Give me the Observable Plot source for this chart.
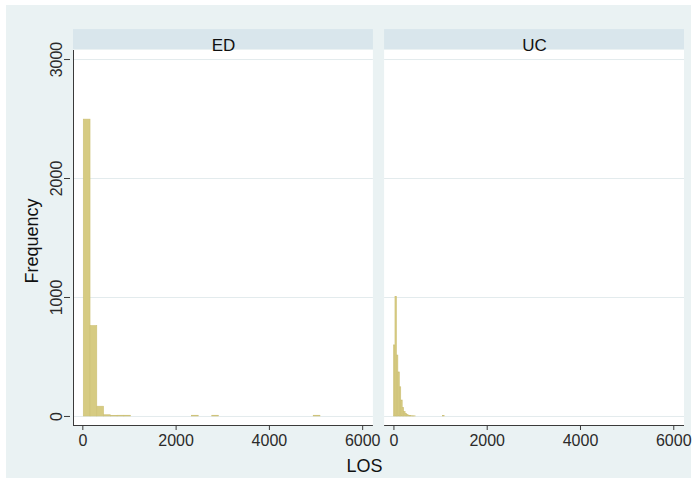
<!DOCTYPE html>
<html><head><meta charset="utf-8">
<script src="https://cdn.jsdelivr.net/npm/d3@7"></script>
<script src="https://cdn.jsdelivr.net/npm/@observablehq/plot@0.6"></script>
<style>
html,body{margin:0;padding:0;background:#fff;}
#chart{position:absolute;left:6px;top:5px;}
</style></head><body><div id="chart"></div>
<script>
// ---- data ----
const groups = ["ED", "UC"];
const edStart = 20, edWidth = 145;
const edCounts = [2495, 760, 82, 10, 3, 6, 6, 0, 0, 0,
                  0, 0, 0, 0, 0, 0, 6, 0, 0, 6,
                  0, 0, 0, 0, 0, 0, 0, 0, 0, 0,
                  0, 0, 0, 0, 6];
const ucStart = 2, ucWidth = 31;
const ucCounts = [597, 1005, 512, 370, 245, 134, 72, 38, 20, 11,
                  6, 4, 2, 1, 1, 0, 0, 0, 0, 0,
                  0, 0, 0, 0, 0, 0, 0, 0, 0, 0,
                  0, 0, 0, 0, 3];
const xTicks = [0, 2000, 4000, 6000];
const yTicks = [0, 1000, 2000, 3000];
const xLabel = "LOS";
const yLabel = "Frequency";

// ---- table built from the arrays ----
const spec = {ED: [edStart, edWidth, edCounts], UC: [ucStart, ucWidth, ucCounts]};
const bins = [];
for (const g of groups) {
  const [s, w, c] = spec[g];
  c.forEach((n, i) => { if (n > 0) bins.push({group: g, x0: s + i * w, x1: s + (i + 1) * w, count: n}); });
}

const X_DOMAIN = [-200, 6230];
const Y_DOMAIN = [-76, 3076];
const STRIP = [3084, 3252];
const FONT = "'Liberation Sans', Arial, sans-serif";
const fmt = d => String(d);

const chart = Plot.plot({
  width: 685, height: 473,
  marginLeft: 67, marginRight: 7, marginTop: 45, marginBottom: 53,
  style: {background: "#eaf2f3", fontFamily: FONT, fontSize: "16px", color: "#2a2a2a", overflow: "visible"},
  fx: {domain: groups, paddingInner: 0.036, paddingOuter: 0, axis: null, round: false},
  x: {domain: X_DOMAIN},
  y: {domain: Y_DOMAIN},
  marks: [
    Plot.rect([0], {x1: X_DOMAIN[0], x2: X_DOMAIN[1], y1: Y_DOMAIN[0], y2: Y_DOMAIN[1], fill: "#ffffff"}),
    Plot.rect([0], {x1: X_DOMAIN[0], x2: X_DOMAIN[1], y1: STRIP[0], y2: STRIP[1], fill: "#d9e6ec"}),
    Plot.text(groups, {fx: d => d, text: d => d, frameAnchor: "top", dy: -11.5, fontSize: 17, fill: "#111"}),
    Plot.ruleY(yTicks, {stroke: "#e3ebed", strokeWidth: 1}),
    Plot.rectY(bins, {fx: "group", x1: "x0", x2: "x1", y1: 0, y2: "count", fill: "#d6cb82", stroke: "#cdc075", strokeWidth: 0.6}),
    Plot.ruleY([Y_DOMAIN[0]], {stroke: "#3a3a3a", strokeWidth: 1}),
    Plot.ruleX(["ED"], {fx: d => d, x: X_DOMAIN[0], y1: Y_DOMAIN[0], y2: Y_DOMAIN[1], stroke: "#3a3a3a", strokeWidth: 1}),
    Plot.axisX({ticks: xTicks, tickFormat: fmt, tickSize: 5, tickPadding: 4, label: null, fontSize: 16, stroke: "#3a3a3a"}),
    Plot.axisY({ticks: yTicks, tickFormat: fmt, tickSize: 6, tickRotate: -90, label: null, fontSize: 16, stroke: "#3a3a3a", dx: -3}),
    Plot.text([yLabel], {fx: () => "ED", text: d => d, x: X_DOMAIN[0], y: (Y_DOMAIN[0] + Y_DOMAIN[1]) / 2, dx: -41, dy: 3, rotate: -90, fontSize: 18, fill: "#111"}),
    Plot.text([xLabel], {fx: () => "ED", text: d => d, x: X_DOMAIN[1], y: Y_DOMAIN[0], dx: -9, dy: 41, fontSize: 18, fill: "#111"})
  ]
});
document.getElementById("chart").appendChild(chart);
</script></body></html>
